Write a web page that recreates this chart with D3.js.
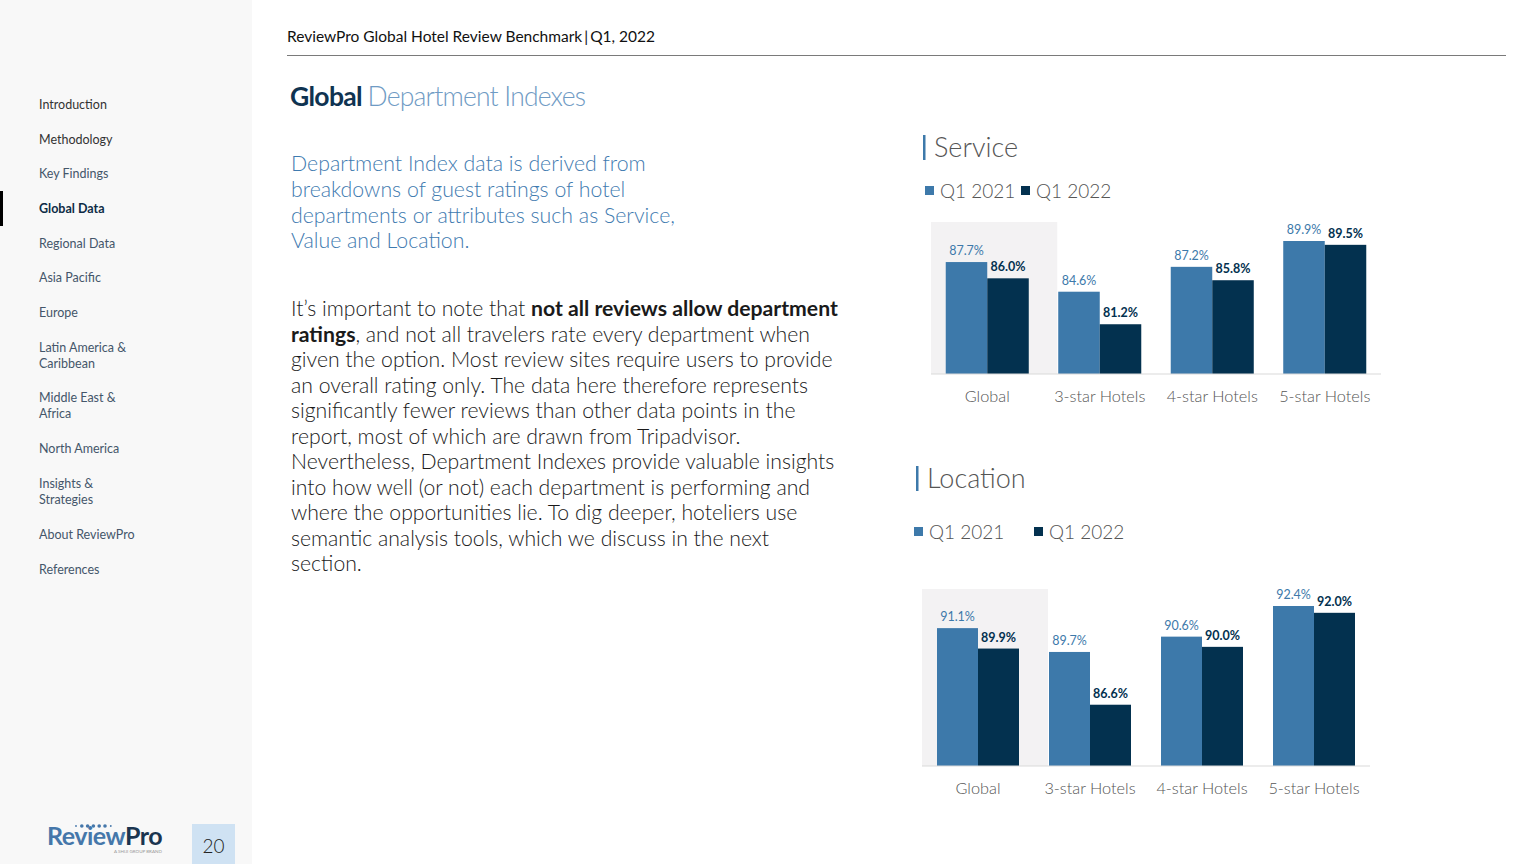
<!DOCTYPE html>
<html>
<head>
<meta charset="utf-8">
<title>Global Department Indexes</title>
<script src="https://cdnjs.cloudflare.com/ajax/libs/d3/7.8.5/d3.min.js"></script>
<style>
    body { margin: 0; background: #fff; }
    svg { display: block; font-family: Lato, "Open Sans", sans-serif; }
</style>
</head>
<body>
<script>
// --- data ---
var categories = ["Global", "3-star Hotels", "4-star Hotels", "5-star Hotels"];
var seriesNames = ["Q1 2021", "Q1 2022"];
var serviceQ1_2021 = [87.7, 84.6, 87.2, 89.9];
var serviceQ1_2022 = [86.0, 81.2, 85.8, 89.5];
var locationQ1_2021 = [91.1, 89.7, 90.6, 92.4];
var locationQ1_2022 = [89.9, 86.6, 90.0, 92.0];

var navItems = [
    ["Introduction"], ["Methodology"], ["Key Findings"], ["Global Data"],
    ["Regional Data"], ["Asia Pacific"], ["Europe"], ["Latin America &", "Caribbean"],
    ["Middle East &", "Africa"], ["North America"], ["Insights &", "Strategies"],
    ["About ReviewPro"], ["References"]
];
var navY = [104, 139, 173, 208, 243, 277, 312, 347, 397, 448, 483, 534, 569];

var introLines = [
    "Department Index data is derived from",
    "breakdowns of guest ratings of hotel",
    "departments or attributes such as Service,",
    "Value and Location."
];
var bodyLines = [
    [["It\u2019s important to note that ", 0], ["not all reviews allow department", 1]],
    [["ratings", 1], [", and not all travelers rate every department when", 0]],
    [["given the option. Most review sites require users to provide", 0]],
    [["an overall rating only. The data here therefore represents", 0]],
    [["significantly fewer reviews than other data points in the", 0]],
    [["report, most of which are drawn from Tripadvisor.", 0]],
    [["Nevertheless, Department Indexes provide valuable insights", 0]],
    [["into how well (or not) each department is performing and", 0]],
    [["where the opportunities lie. To dig deeper, hoteliers use", 0]],
    [["semantic analysis tools, which we discuss in the next", 0]],
    [["section.", 0]]
];

var colors = ["#3d79aa", "#03314f"];
var W = 1536, H = 864;

var svg = d3.select("body").append("svg")
    .attr("width", W)
    .attr("height", H);

// sidebar
svg.append("rect").attr("x", 0).attr("y", 0).attr("width", 252).attr("height", H)
    .attr("fill", "#f8f8f8");
svg.append("rect").attr("x", 0).attr("y", 191).attr("width", 3).attr("height", 35)
    .attr("fill", "#000");

navItems.forEach(function (item, i) {
    var t = svg.append("text")
        .attr("x", 39)
        .attr("y", navY[i] + 4.5)
        .attr("font-size", 12.5)
        .attr("fill", i === 3 ? "#0d2b45" : (i < 2 ? "#333" : "#44566a"))
        .attr("font-weight", i === 3 ? "bold" : "normal");
    item.forEach(function (line, j) {
        t.append("tspan").attr("x", 39).attr("dy", j === 0 ? 0 : 16).text(line);
    });
});

// logo
var logo = svg.append("g").attr("transform", "translate(47,845)");
logo.append("text").attr("font-size", 25).attr("font-weight", "bold")
    .attr("letter-spacing", -0.5)
    .attr("textLength", 115)
    .call(function (t) {
        t.append("tspan").attr("fill", "#4577aa").text("Review");
        t.append("tspan").attr("fill", "#1b3550").text("Pro");
    });
logo.selectAll("circle.dot").data(d3.range(7)).join("circle")
    .attr("cx", function (d) { return 29 + d * 5.8; })
    .attr("cy", -19)
    .attr("r", function (d) { return d === 0 || d === 6 ? 0.9 : 1.8; })
    .attr("fill", "#4577aa");
logo.append("text").attr("x", 67).attr("y", 8).attr("font-size", 4.5)
    .attr("fill", "#999").text("A SHIJI GROUP BRAND");

svg.append("rect").attr("x", 192).attr("y", 824).attr("width", 43).attr("height", 40)
    .attr("fill", "#cfe2f3");
svg.append("text").attr("x", 213.5).attr("y", 853).attr("text-anchor", "middle")
    .attr("font-size", 19).attr("font-weight", 300).attr("fill", "#222").text("20");

// header
svg.append("text").attr("x", 287).attr("y", 42).attr("font-size", 15.5)
    .attr("fill", "#111")
    .call(function (t) {
        t.append("tspan").text("ReviewPro Global Hotel Review Benchmark");
        t.append("tspan").attr("dx", 2).text("|");
        t.append("tspan").attr("dx", 2).text("Q1, 2022");
    });
svg.append("line").attr("x1", 287).attr("x2", 1506).attr("y1", 55.5).attr("y2", 55.5)
    .attr("stroke", "#7a7a7a").attr("stroke-width", 1);

svg.append("text").attr("x", 290).attr("y", 106).attr("font-size", 26.5)
    .call(function (t) {
        t.append("tspan").attr("fill", "#0f3351").attr("font-weight", "bold")
            .attr("letter-spacing", -0.7).text("Global ");
        t.append("tspan").attr("fill", "#6f9bc4").attr("font-weight", 300)
            .attr("letter-spacing", -0.8).text("Department Indexes");
    });

// text blocks
var intro = svg.append("text").attr("font-size", 21.3).attr("fill", "#3f7bb0")
    .attr("font-weight", 300);
introLines.forEach(function (l, i) {
    intro.append("tspan").attr("x", 291).attr("y", 171 + i * 25.8).text(l);
});

var body = svg.append("text").attr("font-size", 21.2).attr("fill", "#1a1a1a")
    .attr("font-weight", 300);
bodyLines.forEach(function (parts, i) {
    parts.forEach(function (p, j) {
        var ts = body.append("tspan").text(p[0])
            .attr("font-weight", p[1] ? "bold" : 300);
        if (j === 0) ts.attr("x", 291).attr("y", 316 + i * 25.5);
    });
});

// charts
function barChart(opts) {
    var g = svg.append("g");

    g.append("rect").attr("x", opts.titleX - 11).attr("y", opts.titleY - 22)
        .attr("width", 2.5).attr("height", 25).attr("fill", "#3d79aa");
    g.append("text").attr("x", opts.titleX).attr("y", opts.titleY)
        .attr("font-size", 27).attr("font-weight", 300).attr("fill", "#555")
        .text(opts.title);

    opts.legendX.forEach(function (lx, i) {
        g.append("rect").attr("x", lx).attr("y", opts.legendY - 12)
            .attr("width", 9).attr("height", 9).attr("fill", colors[i]);
        g.append("text").attr("x", lx + 15).attr("y", opts.legendY)
            .attr("font-size", 19).attr("font-weight", 300).attr("fill", "#555")
            .text(seriesNames[i]);
    });

    var x = d3.scaleBand().domain(categories)
        .range([opts.x0, opts.x1])
        .paddingInner(opts.pad).paddingOuter(opts.pad / 2);
    var xs = d3.scaleBand().domain(seriesNames).range([0, x.bandwidth()]);
    var y = d3.scaleLinear().domain(opts.domain).range([opts.base, opts.top]);

    // highlight behind Global
    g.append("rect")
        .attr("x", opts.x0)
        .attr("y", opts.hlTop)
        .attr("width", x(categories[1]) - 1 - opts.x0)
        .attr("height", opts.base - opts.hlTop)
        .attr("fill", "#f3f2f3");

    var rows = categories.map(function (c, i) {
        return {cat: c, vals: [opts.a[i], opts.b[i]]};
    });

    var grp = g.selectAll("g.cat").data(rows).join("g")
        .attr("class", "cat")
        .attr("transform", function (d) { return "translate(" + x(d.cat) + ",0)"; });

    grp.selectAll("rect").data(function (d) {
        return d.vals.map(function (v, i) { return {s: seriesNames[i], v: v, i: i}; });
    }).join("rect")
        .attr("x", function (d) { return xs(d.s); })
        .attr("y", function (d) { return y(d.v); })
        .attr("width", xs.bandwidth())
        .attr("height", function (d) { return opts.base - y(d.v); })
        .attr("fill", function (d) { return colors[d.i]; });

    grp.selectAll("text").data(function (d) {
        return d.vals.map(function (v, i) { return {s: seriesNames[i], v: v, i: i}; });
    }).join("text")
        .attr("x", function (d) { return xs(d.s) + xs.bandwidth() / 2; })
        .attr("y", function (d) { return y(d.v) - 7; })
        .attr("text-anchor", "middle")
        .attr("font-size", 12.5)
        .attr("font-weight", function (d) { return d.i ? "bold" : "normal"; })
        .attr("fill", function (d) { return colors[d.i]; })
        .text(function (d) { return d.v.toFixed(1) + "%"; });

    var axis = g.append("g")
        .attr("transform", "translate(0," + opts.base + ")")
        .call(d3.axisBottom(x).tickSize(0).tickPadding(16));
    axis.select(".domain").attr("stroke", "#d9d9d9").attr("stroke-width", 1.2)
        .attr("d", "M" + opts.x0 + ",0H" + opts.x1);
    axis.selectAll(".tick text")
        .attr("font-family", "Lato, sans-serif")
        .attr("font-size", 16.3)
        .attr("font-weight", 300)
        .attr("fill", "#555");
}

barChart({
    title: "Service", titleX: 934, titleY: 157,
    legendX: [925, 1021], legendY: 198,
    x0: 931, x1: 1381, pad: 0.262,
    base: 374, top: 241, domain: [76, 89.9], hlTop: 222,
    a: serviceQ1_2021, b: serviceQ1_2022
});

barChart({
    title: "Location", titleX: 927, titleY: 488,
    legendX: [914, 1034], legendY: 539,
    x0: 922, x1: 1370, pad: 0.268,
    base: 766, top: 606, domain: [83, 92.4], hlTop: 589,
    a: locationQ1_2021, b: locationQ1_2022
});
</script>
</body>
</html>
